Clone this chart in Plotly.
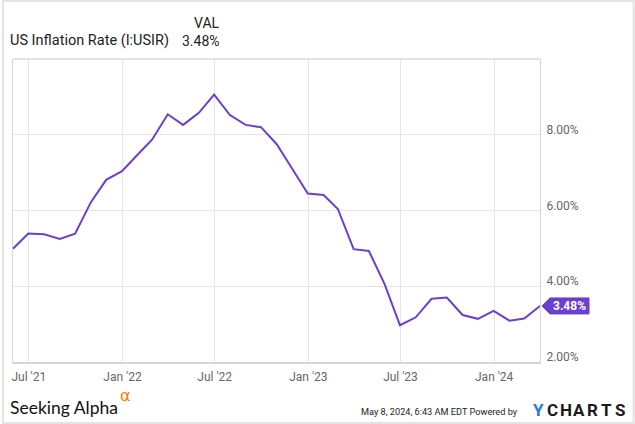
import pandas as pd
import plotly.graph_objects as go

# ---- data ----
dates = pd.date_range("2021-05-31", "2024-03-31", freq="ME")
inflation = [4.99, 5.39, 5.37, 5.25, 5.39, 6.22, 6.81, 7.04,
             7.48, 7.87, 8.54, 8.26, 8.58, 9.06, 8.52, 8.26, 8.20, 7.75, 7.11, 6.45,
             6.41, 6.04, 4.98, 4.93, 4.05, 2.97, 3.18, 3.67, 3.70, 3.24, 3.14, 3.35,
             3.09, 3.15, 3.48]
x_tick_vals = ["2021-07-01", "2022-01-01", "2022-07-01", "2023-01-01", "2023-07-01", "2024-01-01"]
x_tick_text = ["Jul '21", "Jan '22", "Jul '22", "Jan '23", "Jul '23", "Jan '24"]
y_tick_vals = [2, 4, 6, 8]
y_tick_text = ["2.00%", "4.00%", "6.00%", "8.00%"]
series_name = "US Inflation Rate (I:USIR)"
last_value_text = "3.48%"

W, H = 635, 424
L, R, T, B = 11, 540, 59, 362
PW, PH = R - L, B - T

def px(x):
    return (x - L) / PW

def py(y):
    return (B - y) / PH

PURPLE = "#6b3fd0"
GRID = "#e6e6e6"
FONT = "Roboto"

fig = go.Figure()
fig.add_trace(go.Scatter(x=dates, y=inflation, mode="lines",
                         line=dict(color=PURPLE, width=2), hoverinfo="skip"))

fig.update_layout(
    width=W, height=H,
    margin=dict(l=L, r=W - R, t=T, b=H - B),
    paper_bgcolor="white", plot_bgcolor="white",
    showlegend=False, hovermode=False,
    font=dict(family=FONT, size=12, color="#666"),
    xaxis=dict(range=[dates[0], dates[-1]], tickvals=x_tick_vals, ticktext=x_tick_text,
               showgrid=True, gridcolor=GRID, gridwidth=1,
               showline=True, linecolor="#d6d6d6", linewidth=2, mirror=False,
               ticks="", ticklabelstandoff=3, zeroline=False,
               tickfont=dict(family=FONT, size=12, color="#666")),
    yaxis=dict(range=[2, 10], side="right", tickvals=y_tick_vals, ticktext=y_tick_text,
               showgrid=True, gridcolor=GRID, gridwidth=1,
               showline=True, linecolor="#d6d6d6", linewidth=1, mirror=True,
               ticks="", ticklabelstandoff=3, ticklabelshift=-5, zeroline=False,
               tickfont=dict(family=FONT, size=12, color="#666")),
)

shapes = []
shapes.append(dict(type="line", xref="paper", yref="paper", x0=0, x1=1, y0=1, y1=1,
                   line=dict(color="#e3e3e3", width=2)))
# outer frame of image
shapes.append(dict(type="rect", xref="paper", yref="paper",
                   x0=px(1), x1=px(634), y0=py(1), y1=py(423),
                   line=dict(color="#e3e3e3", width=2), layer="above"))
# value badge
shapes.append(dict(type="path", xref="paper", yref="y", xsizemode="pixel", ysizemode="pixel",
                   xanchor=1, yanchor=inflation[-1],
                   path="M 2,0 L 10,8 L 49,8 L 49,-8 L 10,-8 Z",
                   fillcolor=PURPLE, line=dict(color=PURPLE, width=1), layer="above"))
fig.update_layout(shapes=shapes)

ann = []
ann.append(dict(xref="paper", yref="y", x=1, y=inflation[-1], xshift=29, text="<b>" + last_value_text + "</b>",
                showarrow=False, xanchor="center", yanchor="middle",
                font=dict(family=FONT, size=12, color="white")))
# header
ann.append(dict(xref="paper", yref="paper", x=px(221), y=py(23), text="VAL", showarrow=False,
                xanchor="right", yanchor="middle", font=dict(family=FONT, size=14, color="#222")))
ann.append(dict(xref="paper", yref="paper", x=px(6), y=py(41), text=series_name, showarrow=False,
                xanchor="left", yanchor="middle", font=dict(family=FONT, size=14.5, color="#222")))
ann.append(dict(xref="paper", yref="paper", x=px(221), y=py(41), text=last_value_text, showarrow=False,
                xanchor="right", yanchor="middle", font=dict(family=FONT, size=14, color="#222")))
# footer left
ann.append(dict(xref="paper", yref="paper", x=px(6), y=py(407), text="Seeking Alpha", showarrow=False,
                xanchor="left", yanchor="middle", font=dict(family="Lato", size=17.5, color="#111")))
ann.append(dict(xref="paper", yref="paper", x=px(116), y=py(395), text="α", showarrow=False,
                xanchor="left", yanchor="middle", font=dict(family="DejaVu Sans", size=16, color="#ff7a00")))
# footer right
ann.append(dict(xref="paper", yref="paper", x=px(520), y=py(411), text="May 8, 2024, 6:43 AM EDT Powered by",
                showarrow=False, xanchor="right", yanchor="middle",
                font=dict(family=FONT, size=9.2, color="#222")))
logo_letters = ["Y", "C", "H", "A", "R", "T", "S"]
logo_colors = ["#1e7be0"] + ["#1a1a1a"] * 6
for i, (ch, col) in enumerate(zip(logo_letters, logo_colors)):
    ann.append(dict(xref="paper", yref="paper", x=px(538.8 + 13.6 * i), y=py(410),
                    text="<b>" + ch + "</b>", showarrow=False, xanchor="center", yanchor="middle",
                    font=dict(family=FONT, size=17, color=col)))
fig.update_layout(annotations=ann)

fig.write_html("out.html")
